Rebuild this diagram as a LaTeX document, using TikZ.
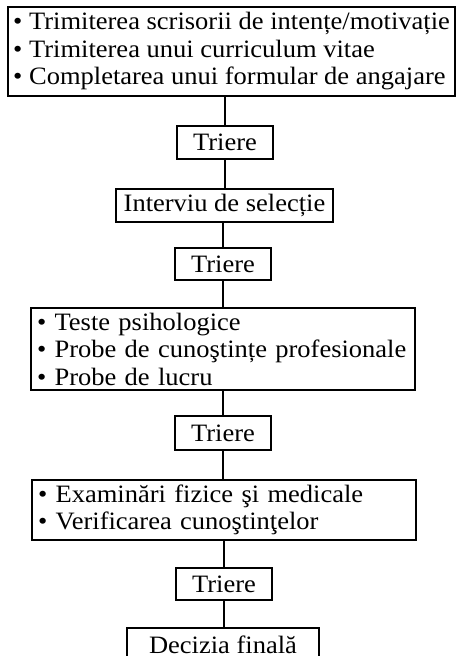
\documentclass[tikz,border=0pt]{standalone}
\usepackage{fontspec}
\setmainfont{Liberation Serif}[FakeStretch=1.06]

\begin{document}
\begin{tikzpicture}[x=1pt,y=1pt,yscale=-1,xscale=1,
  box/.style={draw,line width=1.6pt,inner sep=0pt,font=\fontsize{25}{27.5}\selectfont},
  trierebox/.style={box,minimum width=96,minimum height=33},
  listbox/.style={box,align=left,inner xsep=6pt,text width=372},
  link/.style={line width=1.6pt}]
%set diagram size: 457 x 656
\useasboundingbox (0,0) rectangle (457,656);

% Text Node
\node [box,align=left,minimum width=447,minimum height=89] (cand) at (231.5,51.5)
  {• Trimiterea scrisorii de intențe/motivație\\• Trimiterea unui curriculum vitae\\• Completarea unui formular de angajare};
% Text Node
\node [trierebox] (tri1) at (225,142.5) {Triere};
% Text Node
\node [box,minimum width=217,minimum height=33] (interv) at (224.5,205.5) {Interviu de selecție};
% Text Node
\node [trierebox,minimum height=32] (tri2) at (223,264) {Triere};
% Text Node
\node [listbox,minimum height=82] (probe) at (223,349)
  {• Teste psihologice\\• Probe de cunoştințe profesionale\\• Probe de lucru};
% Text Node
\node [trierebox,minimum height=34] (tri3) at (223,433) {Triere};
% Text Node
\node [listbox,minimum height=60] (exam) at (224,510)
  {• Examinări fizice şi medicale\\• Verificarea cunoştinţelor};
% Text Node
\node [trierebox,minimum height=32] (tri4) at (224,584) {Triere};
% Text Node
\node [box,minimum width=192,minimum height=34] (final) at (223,645) {Decizia finală};

%Straight Lines
\draw [link] (tri1.north) -- (tri1.north |- cand.south);
%Straight Lines
\draw [link] (tri1.south) -- (tri1.south |- interv.north);
%Straight Lines
\draw [link] (tri2.north) -- (tri2.north |- interv.south);
%Straight Lines
\draw [link] (tri2.south) -- (tri2.south |- probe.north);
%Straight Lines
\draw [link] (tri3.north) -- (tri3.north |- probe.south);
%Straight Lines
\draw [link] (tri3.south) -- (tri3.south |- exam.north);
%Straight Lines
\draw [link] (tri4.north) -- (tri4.north |- exam.south);
%Straight Lines
\draw [link] (tri4.south) -- (tri4.south |- final.north);

\end{tikzpicture}
\end{document}
